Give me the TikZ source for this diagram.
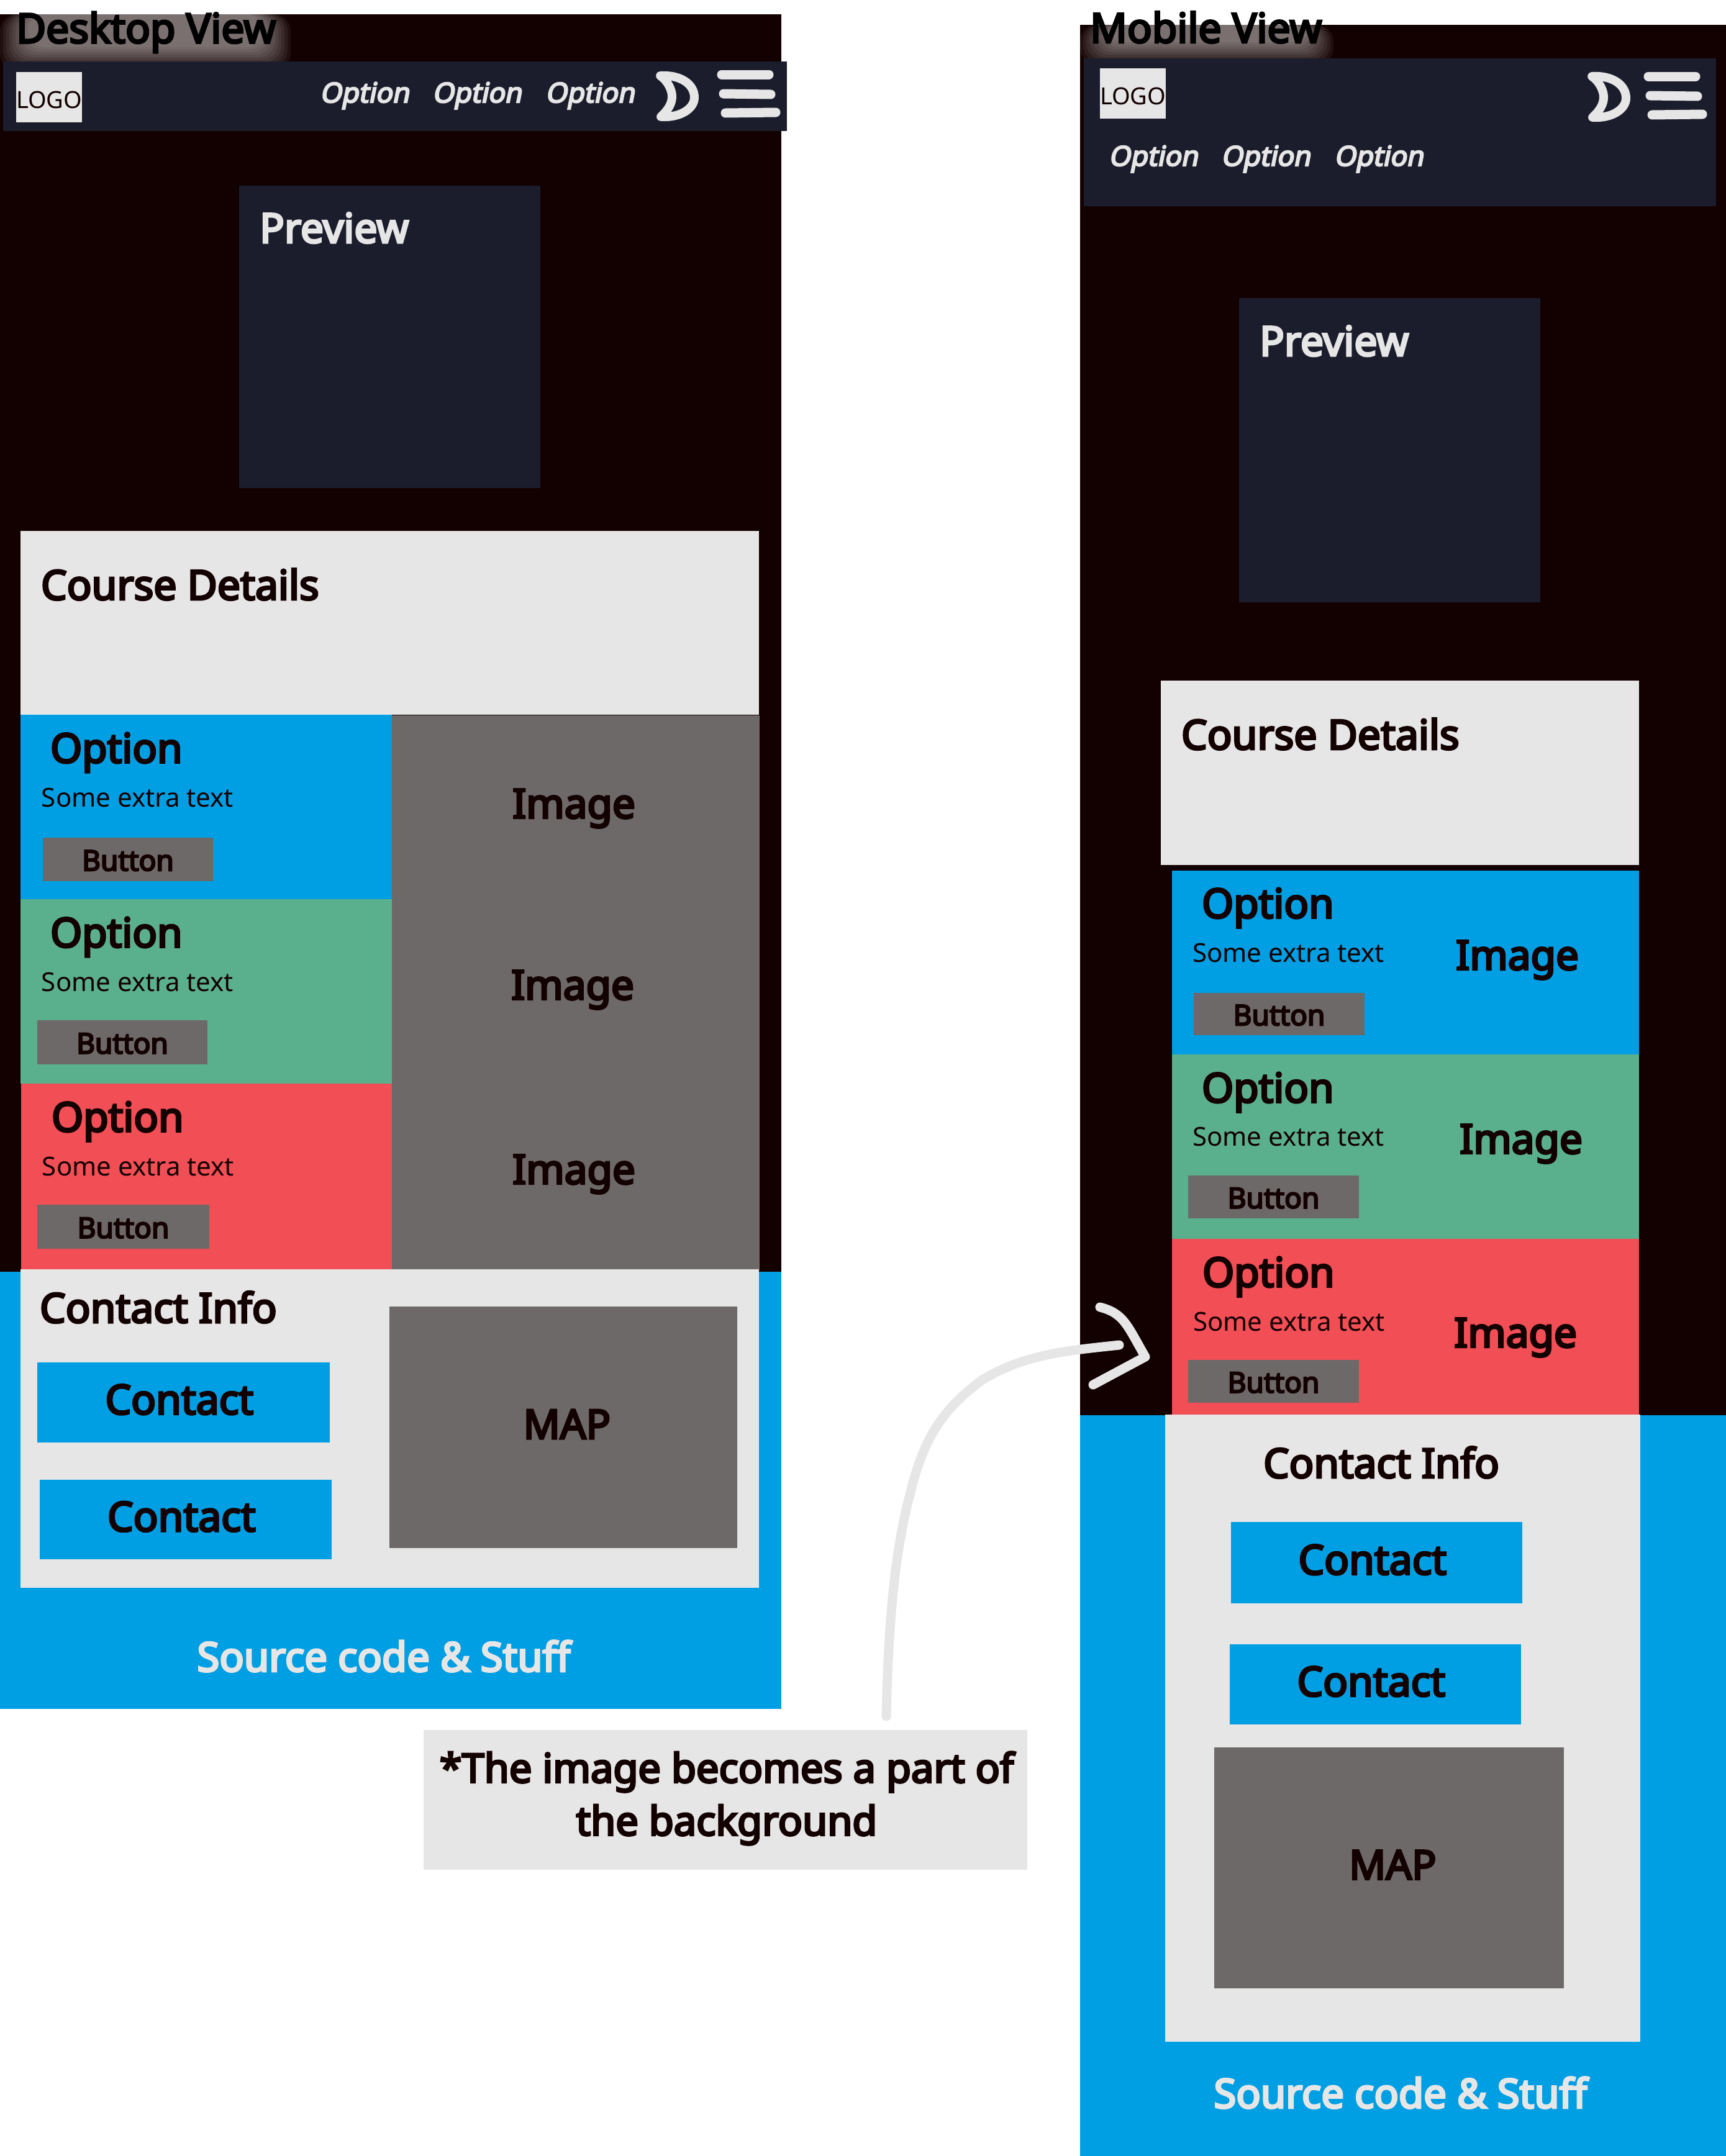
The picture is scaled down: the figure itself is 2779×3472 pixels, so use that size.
\documentclass[tikz,border=0pt]{standalone}
\usepackage{fontspec}
\setmainfont{Noto Sans}[BoldFont={Noto Sans},BoldFeatures={FakeBold=5},BoldItalicFont={Noto Sans},BoldItalicFeatures={FakeBold=5,FakeSlant=0.2}]
\usepackage{tikz}
\usetikzlibrary{positioning}

\definecolor{pagedark}{RGB}{19,0,0}
\definecolor{navdark}{RGB}{27,29,44}
\definecolor{lightbox}{RGB}{230,230,230}
\definecolor{skyblue}{RGB}{0,158,227}
\definecolor{sagegreen}{RGB}{90,176,140}
\definecolor{coralred}{RGB}{242,78,85}
\definecolor{stone}{RGB}{109,105,104}

\tikzset{
  % every box is given by its top left corner and its size in image pixels
  sized/.style 2 args={rectangle,inner sep=0pt,outer sep=0pt,anchor=north west,
    minimum width=#1*0.3pt,minimum height=#2*0.3pt},
  lbl/.style={inner sep=0pt,outer sep=0pt,text=pagedark},
  heading/.style={lbl,anchor=west,font=\bfseries\fontsize{19.8}{23}\selectfont},
  option/.style={lbl,anchor=west,font=\bfseries\fontsize{19.7}{22}\selectfont},
  extra/.style={lbl,anchor=west,font=\fontsize{12.6}{16}\selectfont},
  navitem/.style={lbl,anchor=west,text=lightbox,font=\bfseries\itshape\fontsize{13.3}{16}\selectfont},
  buttonbox/.style={fill=stone,text=pagedark,text height=11pt,font=\bfseries\fontsize{13.8}{15}\selectfont},
  contactbox/.style={fill=skyblue,text=pagedark,text depth=3pt,execute at end node=\hspace{4pt},font=\bfseries\fontsize{19.8}{23}\selectfont},
  mapbox/.style={fill=stone,text=pagedark,text depth=3pt,execute at begin node=\hspace{3.5pt},font=\bfseries\fontsize{19.6}{23}\selectfont},
  imagelabel/.style={lbl,font=\bfseries\fontsize{19.7}{23}\selectfont},
  logobox/.style={fill=lightbox,text=pagedark,text height=11pt,font=\fontsize{11.4}{14}\selectfont},
  viewtitle/.style={lbl,anchor=west,text=black,font=\bfseries\fontsize{19.8}{23}\selectfont},
  footertext/.style={lbl,text=lightbox,font=\bfseries\fontsize{19.6}{23}\selectfont},
  sketch/.style={draw=lightbox,line width=4.5pt,line cap=round,line join=round},
  glow/.style={fill=white,fill opacity=0.06,rounded corners=8pt},
  moonicon/.pic={
    \draw[sketch,line width=4.2pt] (1063,122) .. controls (1095,120) and (1118,135) .. (1118,157)
      .. controls (1118,175) and (1095,190) .. (1064,188)
      .. controls (1078,175) and (1082,165) .. (1082,155)
      .. controls (1082,145) and (1075,130) .. cycle;
  },
  menuicon/.pic={
    \draw[sketch] (1162,120) -- (1238,120);
    \draw[sketch] (1165,151) -- (1241,152);
    \draw[sketch] (1168,182) -- (1249,181);
  }
}

\begin{document}
\begin{tikzpicture}[x=0.3pt,y=-0.3pt]
  \useasboundingbox (0,0) rectangle (2779,3472);

  % desktop view
  \node[sized={1258}{2030},fill=pagedark] (deskback) at (0,23) {};
  \foreach \d in {0,5,10,15,20,25,30,35,40,45}
    \fill[glow] (\d,23) rectangle (468-\d,112-0.8*\d);
  \node[sized={1262}{112},fill=navdark] (desknav) at (5,99) {};
  \node[viewtitle] (desktitle) at (26,52) {Desktop View};
  \node[sized={103}{81},logobox] (desklogo) at (26,116) {LOGO};
  \node[navitem] (desknav1) at (515,154) {Option};
  \node[navitem] (desknav2) at (696,154) {Option};
  \node[navitem] (desknav3) at (878,154) {Option};
  \pic (deskmoon) at (0,0) {moonicon};
  \pic (deskicon) at (0,0) {menuicon};

  \node[sized={485}{487},fill=navdark] (deskpreview) at (385,299) {};
  \node[heading,text=lightbox] (deskpreviewtext) at (418,367) {Preview};

  \node[sized={1189}{296},fill=lightbox] (deskcourse) at (33,855) {};
  \node[heading] (deskcoursetext) at (66,941) {Course Details};

  \node[sized={598}{297},fill=skyblue] (deskblue) at (33,1151) {};
  \node[sized={598}{297},fill=sagegreen] (deskgreen) at (33,1448) {};
  \node[sized={598}{299},fill=coralred] (deskred) at (34,1745) {};
  \node[sized={592}{893},fill=stone] (deskimage) at (631,1152) {};

  \node[option] (deskopt1) at (81,1212) {Option};
  \node[extra] (deskextra1) at (67,1284) {Some extra text};
  \node[sized={274}{70},buttonbox] (deskbtn1) at (69,1349) {Button};
  \node[imagelabel] (deskimg1) at (924,1302) {Image};

  \node[option] (deskopt2) at (81,1509) {Option};
  \node[extra] (deskextra2) at (67,1581) {Some extra text};
  \node[sized={274}{71},buttonbox] (deskbtn2) at (60,1643) {Button};
  \node[imagelabel] (deskimg2) at (922,1594) {Image};

  \node[option] (deskopt3) at (83,1806) {Option};
  \node[extra] (deskextra3) at (68,1878) {Some extra text};
  \node[sized={277}{71},buttonbox] (deskbtn3) at (60,1940) {Button};
  \node[imagelabel] (deskimg3) at (924,1891) {Image};

  \node[sized={1258}{704},fill=skyblue] (deskfoot) at (0,2048) {};
  \node[sized={1189}{513},fill=lightbox] (deskinfo) at (33,2044) {};
  \node[heading] (deskinfotext) at (64,2105) {Contact Info};
  \node[sized={471}{129},contactbox] (deskcontact1) at (60,2194) {Contact};
  \node[sized={470}{128},contactbox] (deskcontact2) at (64,2383) {Contact};
  \node[sized={560}{389},mapbox] (deskmap) at (627,2104) {MAP};
  \node[footertext] (deskfoottext) at (618,2667) {Source code \& Stuff};

  % mobile view
  \node[sized={1040}{2239},fill=pagedark] (mobback) at (1739,40) {};
  \foreach \d in {0,5,10,15,20,25,30,35,40,45}
    \fill[glow] (1739+\d,40) rectangle (2147-\d,104-0.8*\d);
  \node[sized={1018}{238},fill=navdark] (mobnav) at (1745,94) {};
  \node[viewtitle] (mobtitle) at (1755,44) {Mobile View};
  \node[sized={103}{81},logobox] (moblogo) at (1771,110) {LOGO};
  \pic (mobmoon) at (1500,1) {moonicon};
  \pic (mobicon) at (1492,3) {menuicon};
  \node[navitem] (mobnav1) at (1785,256) {Option};
  \node[navitem] (mobnav2) at (1966,256) {Option};
  \node[navitem] (mobnav3) at (2148,256) {Option};

  \node[sized={485}{490},fill=navdark] (mobpreview) at (1995,480) {};
  \node[heading,text=lightbox] (mobpreviewtext) at (2028,549) {Preview};

  \node[sized={770}{297},fill=lightbox] (mobcourse) at (1869,1096) {};
  \node[heading] (mobcoursetext) at (1902,1182) {Course Details};

  \node[sized={752}{296},fill=skyblue] (mobblue) at (1887,1402) {};
  \node[sized={752}{297},fill=sagegreen] (mobgreen) at (1887,1698) {};
  \node[sized={752}{283},fill=coralred] (mobred) at (1887,1995) {};

  \node[option] (mobopt1) at (1935,1462) {Option};
  \node[extra] (mobextra1) at (1920,1534) {Some extra text};
  \node[sized={275}{68},buttonbox] (mobbtn1) at (1922,1599) {Button};
  \node[imagelabel] (mobimg1) at (2443,1546) {Image};

  \node[option] (mobopt2) at (1935,1759) {Option};
  \node[extra] (mobextra2) at (1920,1830) {Some extra text};
  \node[sized={275}{69},buttonbox] (mobbtn2) at (1913,1893) {Button};
  \node[imagelabel] (mobimg2) at (2449,1842) {Image};

  \node[option] (mobopt3) at (1936,2056) {Option};
  \node[extra] (mobextra3) at (1921,2128) {Some extra text};
  \node[sized={275}{69},buttonbox] (mobbtn3) at (1913,2190) {Button};
  \node[imagelabel] (mobimg3) at (2440,2154) {Image};

  \node[sized={1040}{1193},fill=skyblue] (mobfoot) at (1739,2279) {};
  \node[sized={765}{1010},fill=lightbox] (mobinfo) at (1876,2278) {};
  \node[imagelabel] (mobinfotext) at (2224,2355) {Contact Info};
  \node[sized={469}{131},contactbox] (mobcontact1) at (1982,2451) {Contact};
  \node[sized={469}{129},contactbox] (mobcontact2) at (1980,2648) {Contact};
  \node[sized={563}{388},mapbox] (mobmap) at (1955,2814) {MAP};
  \node[footertext] (mobfoottext) at (2255,3370) {Source code \& Stuff};

  % note and the hand drawn arrow
  \node[sized={972}{225},fill=lightbox] (note) at (682,2786) {};
  \node[lbl,align=center,font=\bfseries\fontsize{19.5}{25.5}\selectfont] (notetext) at (1170,2896)
    {*The image becomes a part of\\the background};

  \coordinate (curvestart) at (1427,2764);
  \coordinate (curveend) at (1802,2166);
  \coordinate (tiptop) at (1771,2105);
  \coordinate (tip) at (1844,2185);
  \coordinate (tipbottom) at (1760,2230);
  \draw[sketch] (curvestart) .. controls (1430,2620) and (1440,2500) .. (1465,2407)
    .. controls (1490,2300) and (1530,2262) .. (1580,2223)
    .. controls (1650,2180) and (1720,2175) .. (curveend);
  \draw[sketch] (tiptop) .. controls (1810,2115) and (1815,2135) .. (tip)
    -- (tipbottom);
\end{tikzpicture}
\end{document}
